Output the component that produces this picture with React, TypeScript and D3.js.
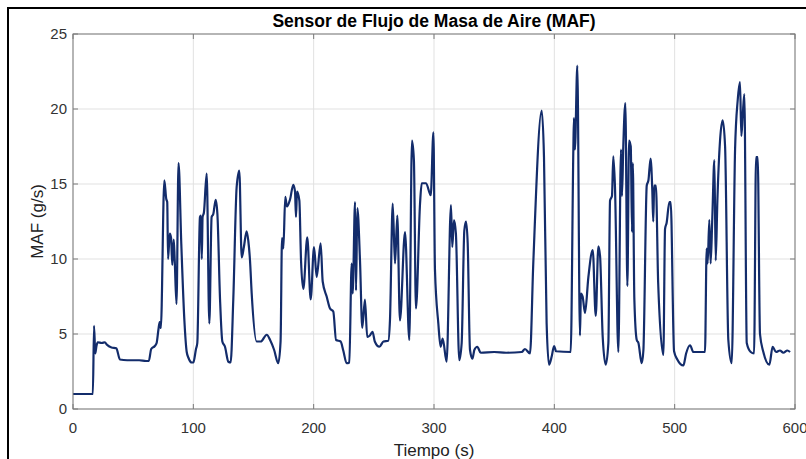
import React from 'react';
import * as d3 from 'd3';

// MAF readings (time in s, flow in g/s)
const tiempo = [
  0, 16.5, 17.5, 18.5, 19.5, 20.5, 24, 26.5, 28, 32, 36, 39, 45, 55, 60.7, 63, 65, 68, 69.5, 71, 72, 73,
  75.9, 77.5, 78.3, 79, 80.4, 81.5, 82.5, 83.7, 84.5, 86, 87.7, 90, 92.5, 94.5, 96, 98.7, 100, 102.2, 103.3,
  105.5, 106.3, 107, 107.7, 108.8, 111.1, 113.3, 115.2, 116.6, 118.6, 120, 122.2, 124.1, 126.3, 129.1, 131,
  133.2, 136, 138.2, 140.2, 142, 144.3, 145.7, 147.1, 148.5, 152.6, 156, 161, 163.8, 167.1, 170.6, 172.5,
  173.7, 174.8, 176.4, 177.8, 180.3, 183.1, 184.5, 185.3, 186.2, 188.1, 189.5, 191.4, 194.7, 197.5, 200.3,
  202.5, 205.8, 207.5, 210.8, 213.6, 216.3, 218.6, 222.4, 224.6, 227.4, 229.6, 231.6, 232.4, 234.4, 235.2,
  236.3, 238.5, 240.4, 242.6, 244.5, 246.7, 248.9, 250.8, 254.6, 258, 262, 263.4, 265.7, 267.6, 269.5,
  271.7, 275.9, 279.5, 281.7, 283.3, 285, 288.4, 289.8, 293.4, 297.3, 299.5, 300.8, 303.6, 305.5, 307.2,
  310.5, 314.1, 315.2, 316.6, 318.2, 321, 323, 325.2, 326.6, 328, 329.9, 331.9, 333.6, 336, 338.8, 350,
  360, 372.9, 375.6, 379.8, 382.5, 389.5, 391.4, 393.6, 395.6, 397.8, 399.8, 401.4, 413.6, 415.8, 416.3,
  417.1, 419.1, 421.3, 422.1, 423.5, 425.5, 428.3, 431.9, 434.4, 436.6, 438, 440.2, 442.7, 444.9, 446.3,
  447.9, 449, 450.4, 453.2, 455.4, 456.2, 457.3, 459, 460.7, 462.1, 463.5, 464.6, 465.2, 466.5, 468.5,
  469.9, 472.6, 474, 476.8, 478.2, 480, 481.4, 482.2, 483, 484.4, 486.3, 490.6, 492, 493.3, 495.6, 496.7,
  499.5, 502.2, 507.2, 509.5, 512.8, 515.5, 525.2, 526.6, 527.4, 528.8, 529.9, 531.3, 533, 534.1, 535.5,
  537.7, 539.9, 541.9, 544.6, 547.4, 550.2, 552.4, 554.3, 555.4, 556.5, 557.9, 559.9, 563.2, 566, 567.6,
  569, 570.9, 573.7, 578.7, 581.4, 584.2, 587.5, 590.3, 593.6, 595.9,
];
const maf = [
  1.0, 1.0, 5.55, 3.7, 4.2, 4.45, 4.4, 4.45, 4.3, 4.1, 4.05, 3.3, 3.25, 3.25, 3.2, 3.2, 4.0, 4.2, 4.4, 5.3, 5.8, 5.4,
  15.25, 14.0, 13.8, 10.0, 11.7, 11.4, 9.6, 11.3, 10.0, 7.0, 16.4, 11.0, 6.0, 3.8, 3.4, 3.1, 3.1, 4.0, 4.4,
  12.8, 12.9, 10.0, 12.8, 13.1, 15.7, 5.7, 12.8, 13.0, 13.95, 13.0, 7.3, 4.5, 4.15, 3.15, 3.1,
  7.3, 14.8, 15.9, 10.1, 10.8, 11.85, 11.2, 9.9, 7.7, 4.5, 4.5, 4.95, 4.6, 3.95, 3.05, 4.5,
  11.4, 10.7, 14.15, 13.5, 13.95, 14.95, 14.5, 12.8, 14.5, 13.9, 9.9, 8.0, 11.45, 7.3, 10.8,
  8.8, 11.05, 8.5, 7.5, 6.7, 6.5, 4.6, 4.5, 3.9, 3.05, 3.1, 9.7, 7.7, 13.8, 7.9,
  13.4, 9.9, 5.4, 7.3, 4.8, 4.9, 5.15, 4.5, 4.15, 4.5, 4.55, 5.9, 13.7, 9.7, 12.9,
  5.9, 11.8, 4.6, 17.9, 16.6, 6.7, 13.7, 15.05, 15.05, 14.25, 18.45, 9.3, 5.7, 4.15, 4.7,
  3.15, 13.6, 10.8, 12.6, 11.7, 3.25, 4.4, 11.9, 12.5, 11.05, 3.95, 3.35, 3.95, 4.15, 3.75, 3.8,
  3.75, 3.8, 4.0, 3.7, 9.7, 19.9, 16.8, 5.7, 2.95, 3.5, 4.2, 3.85, 3.8, 17.3, 19.4,
  17.3, 22.9, 4.9, 7.7, 7.5, 6.4, 8.8, 10.6, 6.2, 10.85, 10.2, 4.8, 2.95, 4.4, 13.9,
  14.2, 16.85, 14.8, 3.8, 17.3, 14.2, 17.5, 20.4, 8.2, 17.9, 17.5, 11.8, 16.4, 7.3, 4.6,
  4.4, 3.05, 3.9, 14.9, 15.25, 16.7, 14.6, 12.5, 14.9, 14.9, 8.4, 3.6, 12.0, 12.4, 13.8, 13.8,
  3.85, 3.3, 2.9, 3.7, 4.25, 3.8, 3.8, 10.7, 9.7, 12.6, 9.7, 12.8, 16.6, 9.9, 13.9,
  17.9, 19.25, 17.5, 4.6, 3.05, 17.3, 20.6, 21.8, 18.2, 19.5, 21.0, 4.4, 3.8, 3.7, 16.8,
  16.8, 5.0, 3.8, 2.95, 4.15, 3.8, 3.9, 3.75, 3.9, 3.8,
];
const xTicks = [0, 100, 200, 300, 400, 500, 600];
const yTicks = [0, 5, 10, 15, 20, 25];

const W = 806;
const H = 459;
const margin = { top: 34, right: 11, bottom: 50, left: 73 };

export default function App() {
  const width = W - margin.left - margin.right;
  const height = H - margin.top - margin.bottom;

  const x = d3.scaleLinear().domain([0, 600]).range([0, width]);
  const y = d3.scaleLinear().domain([0, 25]).range([height, 0]);

  const pts: [number, number][] = tiempo.map((t, i) => [t, maf[i]]);
  const line = d3.line<[number, number]>()
    .x(d => x(d[0]))
    .y(d => y(d[1]))
    .curve(d3.curveMonotoneX);

  const font = 'Liberation Sans, Arial, Helvetica, sans-serif';
  const tickLen = 5;

  return (
    <svg width={W} height={H} style={{ position: 'fixed', left: 0, top: 0, background: '#fff' }}>
      <rect x={8} y={8} width={W + 20} height={H + 20} fill="#fff" stroke="#000" strokeWidth={2} />
      <g transform={`translate(${margin.left},${margin.top})`}>
        {xTicks.map(t => (
          <line key={'gx' + t} x1={x(t)} x2={x(t)} y1={0} y2={height} stroke="#e1e1e1" strokeWidth={1} />
        ))}
        {yTicks.map(t => (
          <line key={'gy' + t} x1={0} x2={width} y1={y(t)} y2={y(t)} stroke="#e1e1e1" strokeWidth={1} />
        ))}

        <path d={line(pts) || ''} fill="none" stroke="#132c6b" strokeWidth={2.2} strokeLinejoin="round" />

        <rect x={0} y={0} width={width} height={height} fill="none" stroke="#7a7a7a" strokeWidth={1} />
        {xTicks.map(t => (
          <g key={'tx' + t}>
            <line x1={x(t)} x2={x(t)} y1={height} y2={height - tickLen} stroke="#7a7a7a" />
            <line x1={x(t)} x2={x(t)} y1={0} y2={tickLen} stroke="#7a7a7a" />
            <text x={x(t)} y={height + 24} textAnchor="middle" fontFamily={font} fontSize={15} fill="#333">
              {t}
            </text>
          </g>
        ))}
        {yTicks.map(t => (
          <g key={'ty' + t}>
            <line x1={0} x2={tickLen} y1={y(t)} y2={y(t)} stroke="#7a7a7a" />
            <line x1={width} x2={width - tickLen} y1={y(t)} y2={y(t)} stroke="#7a7a7a" />
            <text x={-6} y={y(t) + 5} textAnchor="end" fontFamily={font} fontSize={15} fill="#333">
              {t}
            </text>
          </g>
        ))}

        <text x={width / 2} y={-7} textAnchor="middle" fontFamily={font} fontSize={17.5} fontWeight="bold" fill="#000">
          Sensor de Flujo de Masa de Aire (MAF)
        </text>
        <text x={width / 2} y={height + 47} textAnchor="middle" fontFamily={font} fontSize={17} fill="#222">
          Tiempo (s)
        </text>
        <text transform={`translate(${-30},${height / 2}) rotate(-90)`} textAnchor="middle" fontFamily={font} fontSize={17} fill="#222">
          MAF (g/s)
        </text>
      </g>
    </svg>
  );
}
